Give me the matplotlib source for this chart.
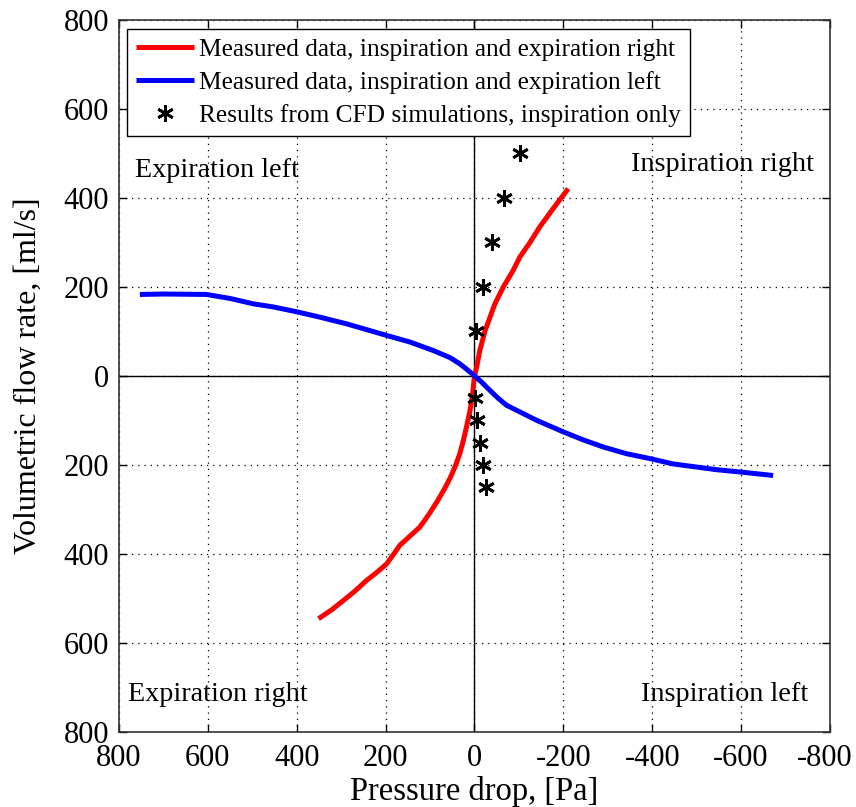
import matplotlib.pyplot as plt
import matplotlib.ticker as ticker

# pressure drop [Pa] vs volumetric flow [ml/s]
red_dp = [351, 320, 295, 268, 243, 220, 198, 182, 168, 145, 123, 103, 85,
          68, 55, 44, 33, 25, 18, 10, 4, 0,
          -5, -12, -24, -35, -46, -65, -87, -102, -125, -147, -180, -211]
red_q = [-546, -525, -505, -483, -460, -442, -423, -401, -381, -360, -340,
         -312, -284, -255, -230, -205, -175, -145, -115, -78, -38, 0,
         20, 57, 102, 132, 162, 200, 237, 267, 300, 335, 380, 421]

blue_dp = [753, 700, 603, 550, 498, 453, 400, 348, 288, 243, 198, 145, 93,
           55, 33, 14, 0, -16, -35, -54, -72, -102, -140, -200, -245, -290,
           -342, -395, -447, -500, -545, -597, -672]
blue_q = [183, 184, 183, 174, 162, 155, 144, 132, 117, 104, 91, 76, 57,
          41, 27, 12, 0, -14, -33, -51, -66, -81, -100, -126, -144, -160,
          -175, -186, -198, -205, -211, -216, -224]

cfd_dp = [-102, -67, -40, -20, -3, -1, -5, -12, -20, -27]
cfd_q = [500, 400, 300, 200, 100, -50, -100, -150, -200, -250]

ticks = [-800, -600, -400, -200, 0, 200, 400, 600, 800]

plt.rcParams['font.family'] = 'Liberation Serif'
plt.rcParams['axes.unicode_minus'] = False

fig = plt.figure(figsize=(8.56, 8.07), dpi=100)
ax = fig.add_axes([0.139, 0.0933, 0.8306, 0.8819])

ax.axhline(0, color='k', lw=1.0, zorder=1)
ax.axvline(0, color='k', lw=1.0, zorder=1)

ax.plot(red_dp, red_q, color='#ff0000', lw=3.6, solid_capstyle='butt',
        label='Measured data, inspiration and expiration right', zorder=3)
ax.plot(blue_dp, blue_q, color='#0000ff', lw=3.6, solid_capstyle='butt',
        label='Measured data, inspiration and expiration left', zorder=3)
ax.plot(cfd_dp, cfd_q, ls='none', marker=(6, 2, 0), ms=12, mew=2.0,
        color='k', label='Results from CFD simulations, inspiration only', zorder=4)

ax.set_xlim(800, -800)
ax.set_ylim(-800, 800)
ax.set_xticks(ticks)
ax.set_yticks(ticks)
# flow axis shows magnitudes on both sides of zero
ax.yaxis.set_major_formatter(ticker.FuncFormatter(lambda v, p: '%d' % abs(v)))
# the outermost x label is written separately, pulled in from the edge
ax.xaxis.set_major_formatter(ticker.FuncFormatter(
    lambda v, p: '' if v == ticks[0] else '%d' % v))
ax.annotate('%d' % ticks[0], xy=(ticks[0], 0), xycoords=('data', 'axes fraction'),
            xytext=(-4, -9), textcoords='offset points',
            ha='center', va='top', fontsize=22)

ax.grid(True, color='k', lw=0.9, ls=(0, (1, 4)))
ax.tick_params(direction='in', length=6, width=1, top=True, right=True,
               labelsize=22)
ax.tick_params(axis='x', pad=9)
ax.tick_params(axis='y', pad=7)
for s in ax.spines.values():
    s.set_linewidth(1.2)
    s.set_color('#333333')

ax.set_xlabel('Pressure drop, [Pa]', fontsize=23.5, labelpad=2)
ax.set_ylabel('Volumetric flow rate, [ml/s]', fontsize=23, labelpad=15)

qfs = 20.3
ax.text(765, 448, 'Expiration left', fontsize=qfs, va='baseline', ha='left')
ax.text(-765, 460, 'Inspiration right', fontsize=qfs, va='baseline', ha='right')
ax.text(780, -730, 'Expiration right', fontsize=qfs, va='baseline', ha='left')
ax.text(-750, -730, 'Inspiration left', fontsize=qfs, va='baseline', ha='right')

leg = ax.legend(loc='upper left', bbox_to_anchor=(0.011, 0.987), fontsize=18.3,
                frameon=True, fancybox=False, framealpha=1, edgecolor='k',
                borderpad=0.35, labelspacing=0.4, handlelength=2.3,
                handletextpad=0.2, borderaxespad=0)
leg.get_frame().set_linewidth(1.0)

fig.savefig('out.png', dpi=100)
